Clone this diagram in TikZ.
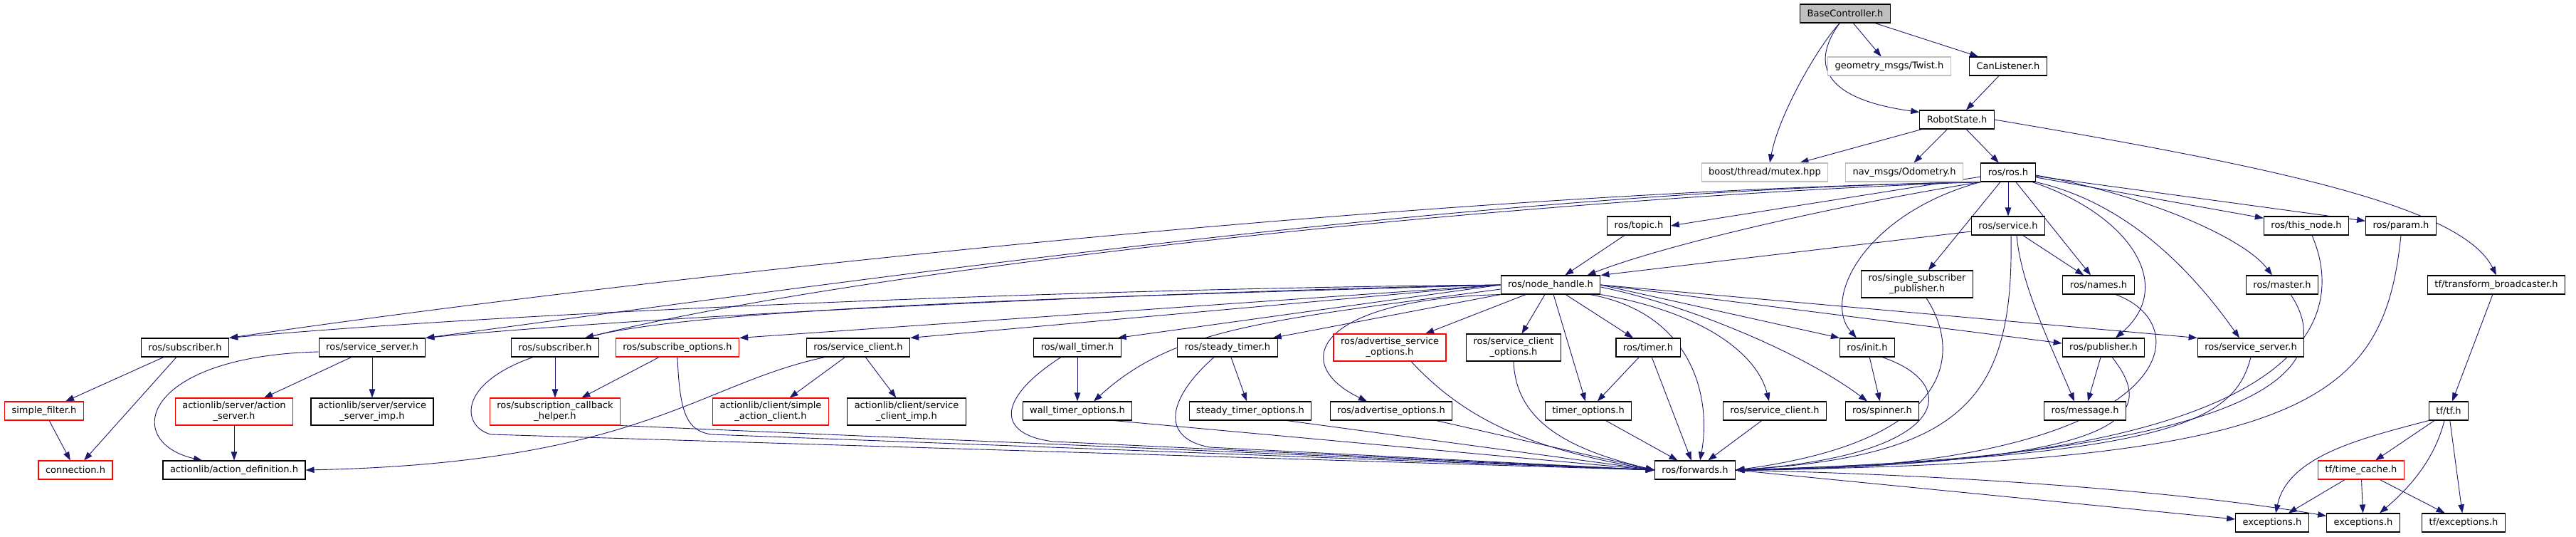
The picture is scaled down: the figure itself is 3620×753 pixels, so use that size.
\documentclass[tikz,border=0pt]{standalone}
\usepackage{fontspec}
\setmainfont{DejaVu Sans}
\usepackage{tikz}
\usetikzlibrary{arrows.meta}
\definecolor{eBlue}{HTML}{191970}
\definecolor{nGrey}{HTML}{BFBFBF}
\definecolor{nRed}{HTML}{FF0000}
\pgfdeclarelayer{edges}
\pgfsetlayers{edges,main}

\begin{document}
\begin{tikzpicture}[x=1pt,y=-1pt,
  >={Triangle[length=12pt,width=8.5pt]},
  file/.style={draw=black,line width=1.1pt,fill=white,font=\fontsize{13}{15}\selectfont,inner xsep=10pt,inner ysep=5pt,minimum height=26pt,align=center},
  cur/.style={file,fill=nGrey},
  ext/.style={file,draw=nGrey},
  cut/.style={file,draw=nRed},
  inc/.style={->,draw=eBlue,line width=0.9pt}]
  \useasboundingbox (0,0) rectangle (3620,753);

  % files
  \node[cur] (base) at (2593,19) {BaseController.h};
  \node[ext] (twist) at (2655,93) {geometry\_msgs/Twist.h};
  \node[file] (canl) at (2822,93) {CanListener.h};
  \node[file] (robot) at (2750,168) {RobotState.h};
  \node[ext] (mutex) at (2480,242) {boost/thread/mutex.hpp};
  \node[ext] (odom) at (2676,242) {nav\_msgs/Odometry.h};
  \node[file] (ros) at (2822,242) {ros/ros.h};
  \node[file] (topic) at (2303,317) {ros/topic.h};
  \node[file] (service) at (2822,317) {ros/service.h};
  \node[file] (thisnode) at (3241,317) {ros/this\_node.h};
  \node[file] (param) at (3374,317) {ros/param.h};
  \node[file] (nh) at (2179,400) {ros/node\_handle.h};
  \node[file] (ssp) at (2694,399) {ros/single\_subscriber\\\_publisher.h};
  \node[file] (names) at (2949,400) {ros/names.h};
  \node[file] (master) at (3207,400) {ros/master.h};
  \node[file] (tfb) at (3508,400) {tf/transform\_broadcaster.h};

  \node[file] (sub1) at (260,488) {ros/subscriber.h};
  \node[file] (ssrv1) at (523,488) {ros/service\_server.h};
  \node[file] (sub2) at (780,488) {ros/subscriber.h};
  \node[cut] (subopt) at (952,488) {ros/subscribe\_options.h};
  \node[file] (sc1) at (1206,488) {ros/service\_client.h};
  \node[file] (wt) at (1514,488) {ros/wall\_timer.h};
  \node[file] (st) at (1725,488) {ros/steady\_timer.h};
  \node[cut] (aso) at (1953,488) {ros/advertise\_service\\\_options.h};
  \node[file] (sco) at (2127,488) {ros/service\_client\\\_options.h};
  \node[file] (timer) at (2316,488) {ros/timer.h};
  \node[file] (init) at (2624,488) {ros/init.h};
  \node[file] (pub) at (2956,488) {ros/publisher.h};
  \node[file] (ssrv2) at (3163,488) {ros/service\_server.h};

  \node[cut] (sfilter) at (62,577) {simple\_filter.h};
  \node[cut] (aserver) at (329,578) {actionlib/server/action\\\_server.h};
  \node[file] (ssimp) at (523,578) {actionlib/server/service\\\_server\_imp.h};
  \node[cut] (sch) at (780,578) {ros/subscription\_callback\\\_helper.h};
  \node[cut] (sac) at (1083,578) {actionlib/client/simple\\\_action\_client.h};
  \node[file] (scimp) at (1274,578) {actionlib/client/service\\\_client\_imp.h};
  \node[file] (wto) at (1514,577) {wall\_timer\_options.h};
  \node[file] (sto) at (1757,577) {steady\_timer\_options.h};
  \node[file] (ao) at (1955,577) {ros/advertise\_options.h};
  \node[file] (to) at (2232,577) {timer\_options.h};
  \node[file] (sc2) at (2494,577) {ros/service\_client.h};
  \node[file] (spinner) at (2645,577) {ros/spinner.h};
  \node[file] (msg) at (2930,577) {ros/message.h};
  \node[file] (tf) at (3441,577) {tf/tf.h};

  \node[cut] (conn) at (106,660) {connection.h};
  \node[file] (adef) at (329,660) {actionlib/action\_definition.h};
  \node[file] (fwd) at (2382,660) {ros/forwards.h};
  \node[cut] (tc) at (3318,660) {tf/time\_cache.h};
  \node[file] (exc1) at (3193,734) {exceptions.h};
  \node[file] (exc2) at (3321,734) {exceptions.h};
  \node[file] (tfexc) at (3462,734) {tf/exceptions.h};

  \begin{pgfonlayer}{edges}
  \fill[white] (0,0) rectangle (3620,753);

  % BaseController.h, RobotState.h
  \draw[inc] (base) -- (twist);
  \draw[inc] (base) -- (canl);
  \draw[inc] (base.-120) .. controls (2540,95) and (2570,140) .. ([yshift=-3pt]robot.north west);
  \draw[inc] (base.-120) .. controls (2555,65) and (2500,160) .. ([xshift=7pt]mutex.north);
  \draw[inc] (canl) -- (robot);
  \draw[inc] (robot) -- (mutex);
  \draw[inc] (robot) -- (odom);
  \draw[inc] (robot) -- (ros);
  \draw[inc] (robot.east) .. controls (3200,235) and (3460,290) .. (tfb.north);

  % ros/ros.h
  \draw[inc] (ros.south west) .. controls (2000,270) and (900,390) .. (sub1.north east);
  \draw[inc] (ros.south west) .. controls (2100,268) and (1300,380) .. (ssrv1.north east);
  \draw[inc] (ros.south west) .. controls (2100,280) and (1200,380) .. ([xshift=-20pt]sub2.north east);
  \draw[inc] (ros) -- (topic.east);
  \draw[inc] (ros.south west) .. controls (2600,285) and (2350,340) .. ([xshift=-19pt]nh.north east);
  \draw[inc] (ros) -- (service);
  \draw[inc] (ros) -- (ssp);
  \draw[inc] (ros.south west) .. controls (2620,300) and (2560,420) .. ([xshift=24pt]init.north west);
  \draw[inc] (ros) -- (names);
  \draw[inc] ([xshift=-5pt]ros.south east) .. controls (2990,300) and (3060,400) .. ([xshift=17pt]pub.north);
  \draw[inc] (ros.south east) .. controls (2990,285) and (3080,380) .. ([xshift=-16pt]ssrv2.north);
  \draw[inc] ([yshift=-4pt]ros.east) .. controls (3000,270) and (3150,330) .. ([xshift=-14pt]master.north);
  \draw[inc] (ros) -- (thisnode);
  \draw[inc] (ros) -- (param);

  % ros/service.h, ros/topic.h
  \draw[inc] ([yshift=-8pt]service.west) -- (nh.north east);
  \draw[inc] (service) -- (names);
  \draw[inc] ([xshift=12pt]service.south) .. controls (2840,400) and (2880,480) .. ([xshift=-15pt]msg.north);
  \draw[inc] ([xshift=4pt]service.south) .. controls (2830,560) and (2760,640) .. (fwd.east);
  \draw[inc] (topic) -- (nh);

  % ros/node_handle.h
  \draw[inc] (nh.west) .. controls (1500,405) and (700,440) .. (sub1.north east);
  \draw[inc] (nh.west) .. controls (1600,410) and (900,445) .. (ssrv1.north east);
  \draw[inc] (nh.west) .. controls (1600,415) and (1000,430) .. ([xshift=-20pt]sub2.north east);
  \draw[inc] (nh.west) -- (subopt.north east);
  \draw[inc] (nh.west) -- (sc1.north east);
  \draw[inc] (nh.west) -- ([xshift=-5pt]wt.north east);
  \draw[inc] (nh.south west) -- ([xshift=-7pt]st.north east);
  \draw[inc] ([yshift=-6pt]nh.west) .. controls (1780,450) and (1650,460) .. ([xshift=23pt]wto.north);
  \draw[inc] (nh.south west) .. controls (1850,420) and (1810,510) .. ([xshift=-34pt]ao.north);
  \draw[inc] (nh) -- (aso);
  \draw[inc] (nh) -- (sco);
  \draw[inc] (nh) -- (to);
  \draw[inc] (nh) -- (timer);
  \draw[inc] ([xshift=-15pt]nh.south east) .. controls (2380,440) and (2405,560) .. ([xshift=7pt]fwd.north);
  \draw[inc] (nh.south east) .. controls (2400,440) and (2470,500) .. ([xshift=-8pt]sc2.north);
  \draw[inc] ([yshift=-3pt]nh.east) .. controls (2380,430) and (2540,500) .. ([xshift=-21pt]spinner.north);
  \draw[inc] (nh.east) -- (init.north west);
  \draw[inc] (nh.east) -- ([yshift=6pt]pub.west);
  \draw[inc] (nh.east) -- (ssrv2.north west);

  % left side
  \draw[inc] (sub1) -- (sfilter);
  \draw[inc] (sub1) -- (conn);
  \draw[inc] (sfilter) -- (conn);
  \draw[inc] ([yshift=-6pt]ssrv1.west) .. controls (200,500) and (170,620) .. ([xshift=-45pt]adef.north);
  \draw[inc] (ssrv1) -- (aserver);
  \draw[inc] (ssrv1) -- (ssimp);
  \draw[inc] (aserver) -- (adef);
  \draw[inc] (sub2) -- (sch);
  \draw[inc] ([xshift=31pt]sub2.south west) .. controls (640,540) and (650,600) .. (690,610) -- (fwd.west);
  \draw[inc] (subopt) -- (sch);
  \draw[inc] (subopt.south) .. controls (955,580) and (965,605) .. (1000,610) -- (fwd.west);
  \draw[inc] (sch.south east) -- (fwd.west);
  \draw[inc] (sc1) -- (sac);
  \draw[inc] (sc1) -- (scimp);
  \draw[inc] ([xshift=-47pt]sc1.south) .. controls (980,540) and (900,650) .. (adef.east);

  % timers and options
  \draw[inc] (wt) -- (wto);
  \draw[inc] ([xshift=-23pt]wt.south) .. controls (1400,560) and (1400,610) .. (1480,620) -- (fwd.west);
  \draw[inc] ([xshift=-26pt]wto.south east) -- (fwd.west);
  \draw[inc] (st) -- (sto);
  \draw[inc] ([xshift=-19pt]st.south) .. controls (1640,560) and (1630,615) .. (1700,628) -- (fwd.west);
  \draw[inc] ([xshift=-35pt]sto.south east) -- (fwd.west);
  \draw[inc] ([xshift=-23pt]ao.south east) -- (fwd.west);
  \draw[inc] ([xshift=30pt]aso.south) .. controls (2060,590) and (2150,630) .. (fwd.west);
  \draw[inc] (sco.south) .. controls (2130,590) and (2200,630) .. (fwd.west);
  \draw[inc] (timer) -- (to);
  \draw[inc] (timer) -- (fwd);
  \draw[inc] (to) -- (fwd);
  \draw[inc] (sc2) -- (fwd);

  % right side into ros/forwards.h
  \draw[inc] (init) -- (spinner);
  \draw[inc] ([xshift=21pt]init.south) .. controls (2760,540) and (2740,640) .. (fwd.east);
  \draw[inc] ([xshift=13pt]ssp.south) .. controls (2760,500) and (2740,620) .. (fwd.east);
  \draw[inc] ([xshift=24pt]names.south) .. controls (3100,460) and (3050,660) .. (fwd.east);
  \draw[inc] (pub) -- (msg);
  \draw[inc] ([xshift=12pt]pub.south) .. controls (3030,580) and (3010,650) .. (fwd.east);
  \draw[inc] (ssrv2.south) .. controls (3140,590) and (3060,640) .. (fwd.east);
  \draw[inc] ([xshift=12pt]master.south) .. controls (3290,520) and (3180,640) .. (fwd.east);
  \draw[inc] ([xshift=8pt]thisnode.south) .. controls (3300,450) and (3250,650) .. (fwd.east);
  \draw[inc] (param.south) .. controls (3350,560) and (3250,650) .. (fwd.east);

  % tf
  \draw[inc] (fwd.east) -- ([yshift=5pt]exc1.west);
  \draw[inc] (fwd.east) .. controls (2800,668) and (3100,695) .. ([yshift=-4pt]exc2.north west);
  \draw[inc] (tfb) -- (tf);
  \draw[inc] (tf.south west) .. controls (3320,615) and (3215,640) .. ([xshift=5pt]exc1.north);
  \draw[inc] (tf) -- (tc);
  \draw[inc] ([xshift=-6pt]tf.south) .. controls (3420,650) and (3380,690) .. ([xshift=23pt]exc2.north);
  \draw[inc] (tf) -- (tfexc);
  \draw[inc] (tc) -- (exc1);
  \draw[inc] (tc) -- (exc2);
  \draw[inc] (tc) -- (tfexc);
  \end{pgfonlayer}
\end{tikzpicture}
\end{document}
